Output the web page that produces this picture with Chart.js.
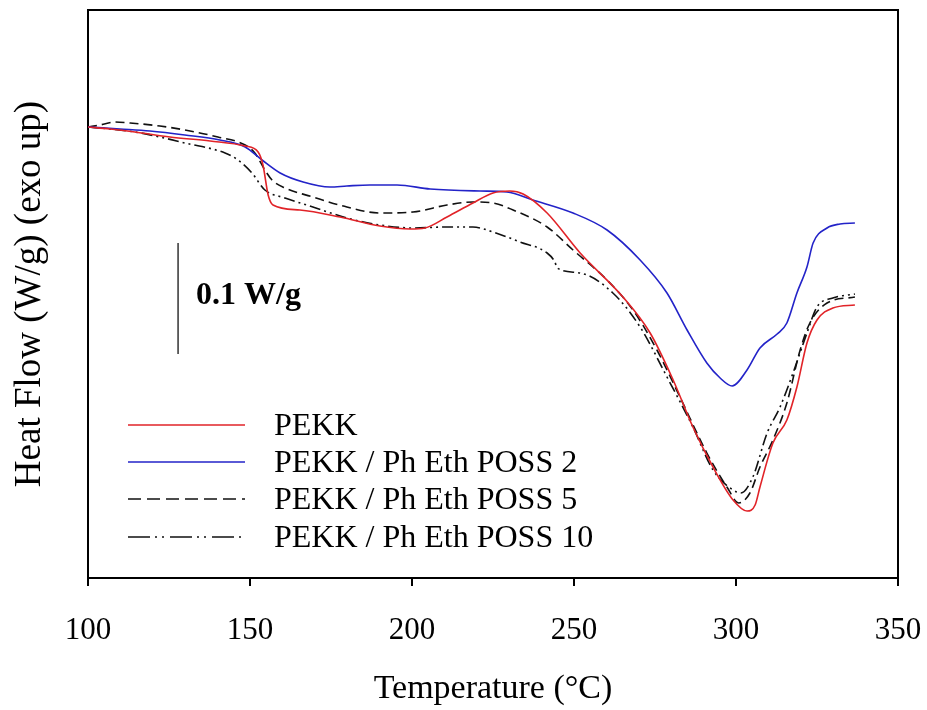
<!DOCTYPE html>
<html>
<head>
<meta charset="utf-8">
<script src="https://cdn.jsdelivr.net/npm/chart.js@4.4.1/dist/chart.umd.min.js"></script>
<style>
  html, body { margin: 0; padding: 0; background: #ffffff; }
  #c { display: block; }
</style>
</head>
<body>
<canvas id="c" width="927" height="710"></canvas>
<script>
// ---- Data (temperature in °C, heat flow in W/g relative to start) ----
const xTicks = [100, 150, 200, 250, 300, 350];

const seriesLabels = ['PEKK', 'PEKK / Ph Eth POSS 2', 'PEKK / Ph Eth POSS 5', 'PEKK / Ph Eth POSS 10'];

const tempPEKK = [100.0, 106.8, 114.5, 125.3, 137.7, 148.5, 152.5, 154.0, 155.6, 157.1, 165.4, 177.8, 190.1, 199.4, 204.0, 210.8, 218.8, 225.0, 230.2, 234.3, 241.7, 251.9, 265.1, 273.5, 280.6, 286.7, 292.9, 299.1, 303.4, 305.9, 307.4, 311.4, 315.7, 318.8, 321.9, 325.0, 329.9, 336.7];
const flowPEKK = [0, -0.0018, -0.0045, -0.0090, -0.0126, -0.0171, -0.0225, -0.0342, -0.0612, -0.0702, -0.0747, -0.0810, -0.0891, -0.0918, -0.0909, -0.0810, -0.0684, -0.0594, -0.0576, -0.0603, -0.0774, -0.1134, -0.1530, -0.1854, -0.2277, -0.2700, -0.3060, -0.3357, -0.3456, -0.3402, -0.3240, -0.2844, -0.2637, -0.2340, -0.1944, -0.1737, -0.1629, -0.1602];

const tempPOSS2 = [100.0, 109.9, 119.1, 129.9, 140.7, 148.5, 153.7, 159.3, 166.4, 174.7, 179.9, 187.0, 195.4, 205.6, 221.0, 229.3, 237.3, 249.7, 260.2, 270.4, 278.7, 284.9, 291.0, 295.1, 298.8, 303.4, 307.4, 312.7, 315.7, 318.8, 321.9, 323.8, 328.1, 332.1, 336.7];
const flowPOSS2 = [0, -0.0018, -0.0036, -0.0072, -0.0117, -0.0180, -0.0297, -0.0414, -0.0495, -0.0540, -0.0531, -0.0522, -0.0522, -0.0558, -0.0576, -0.0585, -0.0657, -0.0774, -0.0927, -0.1197, -0.1494, -0.1827, -0.2124, -0.2259, -0.2331, -0.2187, -0.1989, -0.1863, -0.1764, -0.1494, -0.1260, -0.1044, -0.0909, -0.0873, -0.0864];

const tempPOSS5 = [100.0, 103.7, 108.3, 113.0, 122.2, 129.9, 140.1, 148.5, 151.5, 154.6, 156.8, 160.8, 169.4, 179.9, 190.1, 200.3, 210.8, 218.8, 225.0, 231.2, 241.7, 249.7, 260.2, 268.2, 275.6, 282.7, 291.0, 297.2, 300.9, 304.3, 307.4, 311.4, 315.7, 319.8, 322.8, 328.1, 336.7];
const flowPOSS5 = [0, 0.0018, 0.0045, 0.0036, 0.0009, -0.0027, -0.0090, -0.0162, -0.0234, -0.0387, -0.0477, -0.0549, -0.0630, -0.0720, -0.0774, -0.0765, -0.0702, -0.0675, -0.0684, -0.0747, -0.0900, -0.1107, -0.1377, -0.1647, -0.2007, -0.2430, -0.2934, -0.3240, -0.3384, -0.3294, -0.3060, -0.2817, -0.2484, -0.2007, -0.1764, -0.1584, -0.1530];

const tempPOSS10 = [100.0, 106.8, 114.5, 122.2, 129.9, 142.3, 146.3, 150.6, 154.6, 160.8, 169.4, 179.9, 190.1, 200.3, 210.8, 218.8, 225.0, 233.3, 241.7, 244.1, 244.8, 251.9, 262.0, 270.4, 278.7, 286.7, 292.9, 299.1, 301.5, 305.2, 309.6, 313.6, 317.6, 321.9, 325.0, 329.9, 336.7];
const flowPOSS10 = [0, -0.0018, -0.0045, -0.0090, -0.0144, -0.0234, -0.0297, -0.0414, -0.0567, -0.0639, -0.0720, -0.0819, -0.0882, -0.0909, -0.0900, -0.0900, -0.0945, -0.1035, -0.1134, -0.1215, -0.1269, -0.1314, -0.1494, -0.1800, -0.2250, -0.2700, -0.3087, -0.3267, -0.3294, -0.3150, -0.2754, -0.2520, -0.2214, -0.1854, -0.1620, -0.1539, -0.1503];

// scale bar: 0.1 W/g
const scaleBarTemp = 127.8;
const scaleBarTop = -0.1044;
const scaleBarSize = 0.1;
const scaleBarLabel = '0.1 W/g';

// ---- Styles ----
const FONT = '"Liberation Serif", "Times New Roman", Times, serif';
const colors = ['rgb(225,35,40)', 'rgb(35,35,200)', '#111111', '#111111'];
const plotDash = [[], [], [9, 5], [11, 4, 2, 4, 2, 4]];
const legendDash = [[], [], [13, 6], [22, 5, 2, 5, 2, 6]];

function pts(xs, ys) { return xs.map((x, i) => ({ x: x, y: ys[i] })); }

const seriesData = [pts(tempPEKK, flowPEKK), pts(tempPOSS2, flowPOSS2), pts(tempPOSS5, flowPOSS5), pts(tempPOSS10, flowPOSS10)];

const datasets = seriesData.map((d, i) => ({
  label: seriesLabels[i],
  data: d,
  borderColor: colors[i],
  backgroundColor: colors[i],
  borderWidth: 1.6,
  borderDash: plotDash[i],
  pointRadius: 0,
  cubicInterpolationMode: 'monotone',
  fill: false
}));

const framePlugin = {
  id: 'frame',
  afterDraw(chart) {
    const { ctx, chartArea: a } = chart;
    ctx.save();
    ctx.strokeStyle = '#000';
    ctx.lineWidth = 2;
    ctx.beginPath();
    ctx.moveTo(a.left, a.top);
    ctx.lineTo(a.right, a.top);
    ctx.lineTo(a.right, a.bottom);
    ctx.stroke();
    ctx.restore();
  }
};

const legendPlugin = {
  id: 'customLegend',
  afterDatasetsDraw(chart) {
    const ctx = chart.ctx;
    const rows = [425, 462, 499, 537];
    ctx.save();
    chart.data.datasets.forEach((ds, i) => {
      ctx.beginPath();
      ctx.setLineDash(legendDash[i]);
      ctx.strokeStyle = ds.borderColor;
      ctx.lineWidth = 1.6;
      ctx.moveTo(128, rows[i]);
      ctx.lineTo(245, rows[i]);
      ctx.stroke();
      ctx.setLineDash([]);
      ctx.fillStyle = '#000';
      ctx.font = '32px ' + FONT;
      ctx.textBaseline = 'middle';
      ctx.textAlign = 'left';
      ctx.fillText(ds.label, 274, rows[i] + 2);
    });
    ctx.restore();
  }
};

const scaleBarPlugin = {
  id: 'scaleBar',
  afterDatasetsDraw(chart) {
    const ctx = chart.ctx;
    const xs = chart.scales.x, ys = chart.scales.y;
    const x = xs.getPixelForValue(scaleBarTemp);
    const y1 = ys.getPixelForValue(scaleBarTop);
    const y2 = ys.getPixelForValue(scaleBarTop - scaleBarSize);
    ctx.save();
    ctx.strokeStyle = '#333';
    ctx.lineWidth = 1.5;
    ctx.beginPath();
    ctx.moveTo(x, y1);
    ctx.lineTo(x, y2);
    ctx.stroke();
    ctx.fillStyle = '#000';
    ctx.font = 'bold 32px ' + FONT;
    ctx.textBaseline = 'middle';
    ctx.textAlign = 'left';
    ctx.fillText(scaleBarLabel, x + 18, (y1 + y2) / 2 - 3);
    ctx.restore();
  }
};

new Chart(document.getElementById('c'), {
  type: 'line',
  data: { datasets: datasets },
  options: {
    responsive: false,
    animation: false,
    layout: { padding: { top: 10, right: 29, left: 0, bottom: 0 } },
    plugins: { legend: { display: false }, tooltip: { enabled: false } },
    scales: {
      x: {
        type: 'linear',
        min: 100, max: 350,
        afterBuildTicks(s) { s.ticks = xTicks.map(v => ({ value: v })); },
        ticks: { font: { family: FONT, size: 31 }, color: '#000', padding: 26, maxRotation: 0, autoSkip: false },
        grid: { display: true, drawOnChartArea: false, drawTicks: true, tickLength: 8, color: '#000', lineWidth: 2 },
        border: { display: true, color: '#000', width: 2 },
        title: { display: true, text: 'Temperature (°C)', font: { family: FONT, size: 34 }, color: '#000', padding: { top: 0, bottom: 1 } },
        afterFit(s) { s.height = 132; s.paddingLeft = 0; s.paddingRight = 0; }
      },
      y: {
        type: 'linear',
        min: -0.4059, max: 0.1053,
        ticks: { display: false },
        grid: { display: false },
        border: { display: true, color: '#000', width: 2 },
        title: { display: true, text: 'Heat Flow (W/g) (exo up)', font: { family: FONT, size: 37 }, color: '#000', padding: { top: 8, bottom: 0 } },
        afterFit(s) { s.width = 88; }
      }
    }
  },
  plugins: [framePlugin, legendPlugin, scaleBarPlugin]
});
</script>
</body>
</html>
